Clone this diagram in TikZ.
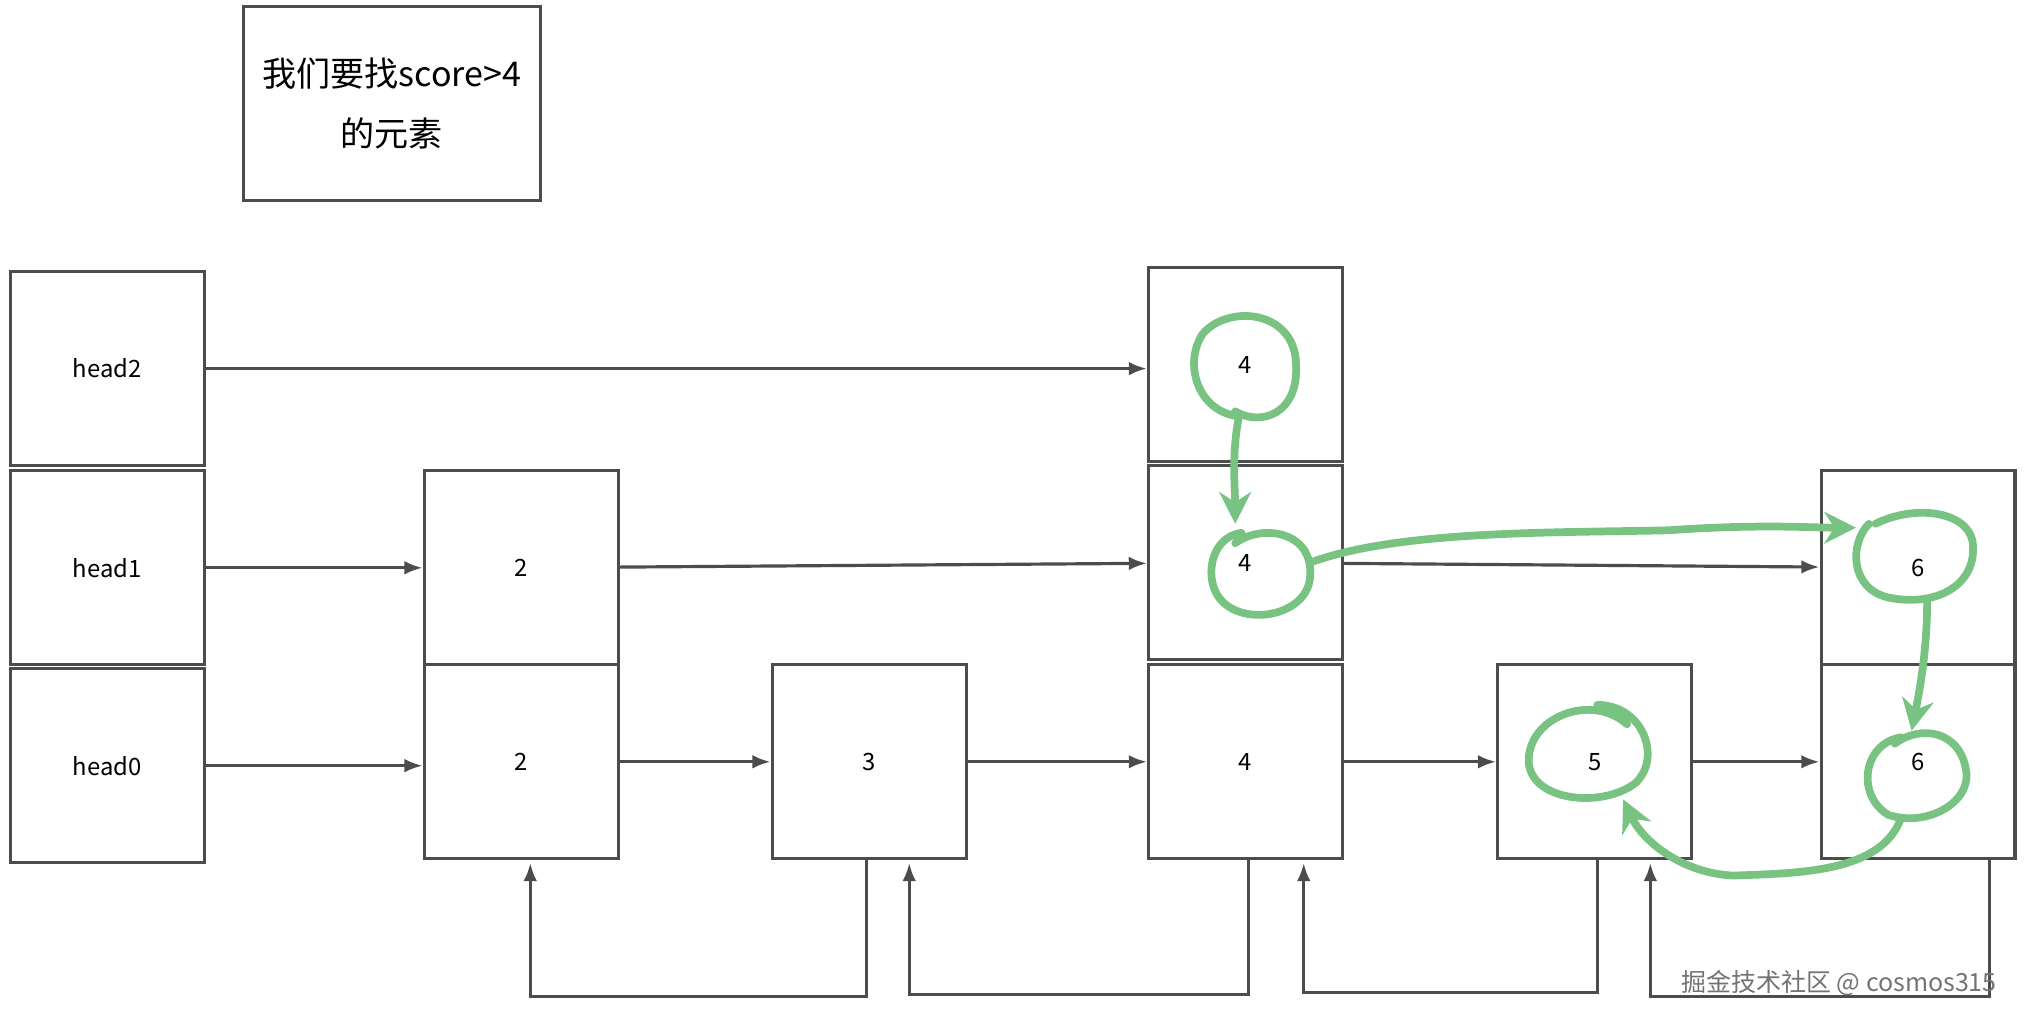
\documentclass[tikz,border=0pt]{standalone}
\usepackage{fontspec}
\setmainfont{Noto Sans CJK SC}
\usetikzlibrary{arrows.meta,calc}

\definecolor{pen}{HTML}{78C381}
\tikzset{
  box/.style={rectangle, draw=black!70, line width=1.4pt, minimum width=3cm,
    minimum height=3cm, inner sep=0pt, font=\fontsize{10.5}{12}\selectfont},
  link/.style={draw=black!70, line width=1.4pt, -{Latex[length=8pt,width=6pt]}},
}

\begin{document}
\begin{tikzpicture}[x=0.02cm, y=-0.02cm]
  \useasboundingbox (0,0) rectangle (1568,792);
  % note
  \node (note) [box, minimum width=4.6cm, font=\fontsize{15}{26}\selectfont,
    align=center] at (303,80) {我们要找score>4\\的元素};
  % heads
  \node (h2) [box] at (83,285) {head2};
  \node (h1) [box] at (83,439) {head1};
  \node (h0) [box] at (83,592) {head0};
  % elements
  \node (a1) [box] at (403,439) {2};
  \node (a0) [box] at (403,589) {2};
  \node (b0) [box] at (672,589) {3};
  \node (c2) [box] at (963,282) {4};
  \node (c1) [box] at (963,435) {4};
  \node (c0) [box] at (963,589) {4};
  \node (d0) [box] at (1233,589) {5};
  \node (e1) [box] at (1483,439) {6};
  \node (e0) [box] at (1483,589) {6};
  % forward links
  \draw [link] (h2) -- (c2.west |- h2);
  \draw [link] (h1) -- (a1);
  \draw [link] (a1) -- (c1);
  \draw [link] (c1) -- (e1);
  \draw [link] (h0.east) -- (a0.west |- h0.east);
  \draw [link] (a0) -- (b0);
  \draw [link] (b0) -- (c0);
  \draw [link] (c0) -- (d0);
  \draw [link] (d0) -- (e0);
  % backward links
  \draw [link] ([xshift=-0.04cm]b0.south) -- ++(0,105) -| ([xshift=0.14cm, yshift=-0.04cm]a0.south);
  \draw [link] ([xshift=0.04cm]c0.south) -- ++(0,104) -| ([xshift=0.62cm, yshift=-0.04cm]b0.south);
  \draw [link] ([xshift=0.04cm]d0.south) -- ++(0,102) -| ([xshift=0.9cm, yshift=-0.04cm]c0.south);
  \draw [link] ([xshift=1.1cm]e0.south) -- ++(0,105) -| ([xshift=0.86cm, yshift=-0.04cm]d0.south);
  % search path
  \begin{scope}[draw=pen, line width=3.4pt, line cap=round, line join=round]
    \draw (958,322) .. controls (925,318) and (915,280) .. (930,258)
      .. controls (950,235) and (1000,240) .. (1002,280)
      .. controls (1005,320) and (975,330) .. (955,318);
    \draw [-{Stealth[length=14pt,width=14pt]}] (958,322) .. controls (952,350) and (955,380) .. (955,405);
    \draw (960,412) .. controls (935,415) and (930,450) .. (945,465)
      .. controls (965,485) and (1012,475) .. (1013,445)
      .. controls (1015,410) and (975,405) .. (955,420);
    \draw [-{Stealth[length=14pt,width=14pt]}] (1013,435) .. controls (1080,410) and (1200,412) .. (1290,410)
      .. controls (1360,405) and (1400,408) .. (1435,408);
    \draw (1445,405) .. controls (1430,420) and (1430,455) .. (1460,462)
      .. controls (1500,470) and (1530,450) .. (1525,418)
      .. controls (1520,395) and (1480,390) .. (1450,405);
    \draw [-{Stealth[length=14pt,width=14pt]}] (1490,465) .. controls (1490,500) and (1485,530) .. (1478,565);
    \draw (1470,570) .. controls (1440,575) and (1435,615) .. (1460,630)
      .. controls (1490,640) and (1525,620) .. (1520,595)
      .. controls (1515,565) and (1485,560) .. (1465,575);
    \draw [-{Stealth[length=14pt,width=14pt]}] (1470,632) .. controls (1455,675) and (1390,675) .. (1340,677)
      .. controls (1300,675) and (1270,650) .. (1255,618);
    \draw (1258,560) .. controls (1230,535) and (1180,555) .. (1182,590)
      .. controls (1185,620) and (1240,625) .. (1265,605)
      .. controls (1285,585) and (1270,545) .. (1235,545);
  \end{scope}
  % watermark
  \node (wm) [anchor=east, text=black!55, font=\fontsize{11}{13}\selectfont] at (1550,760) {掘金技术社区 @ cosmos315};
\end{tikzpicture}
\end{document}
